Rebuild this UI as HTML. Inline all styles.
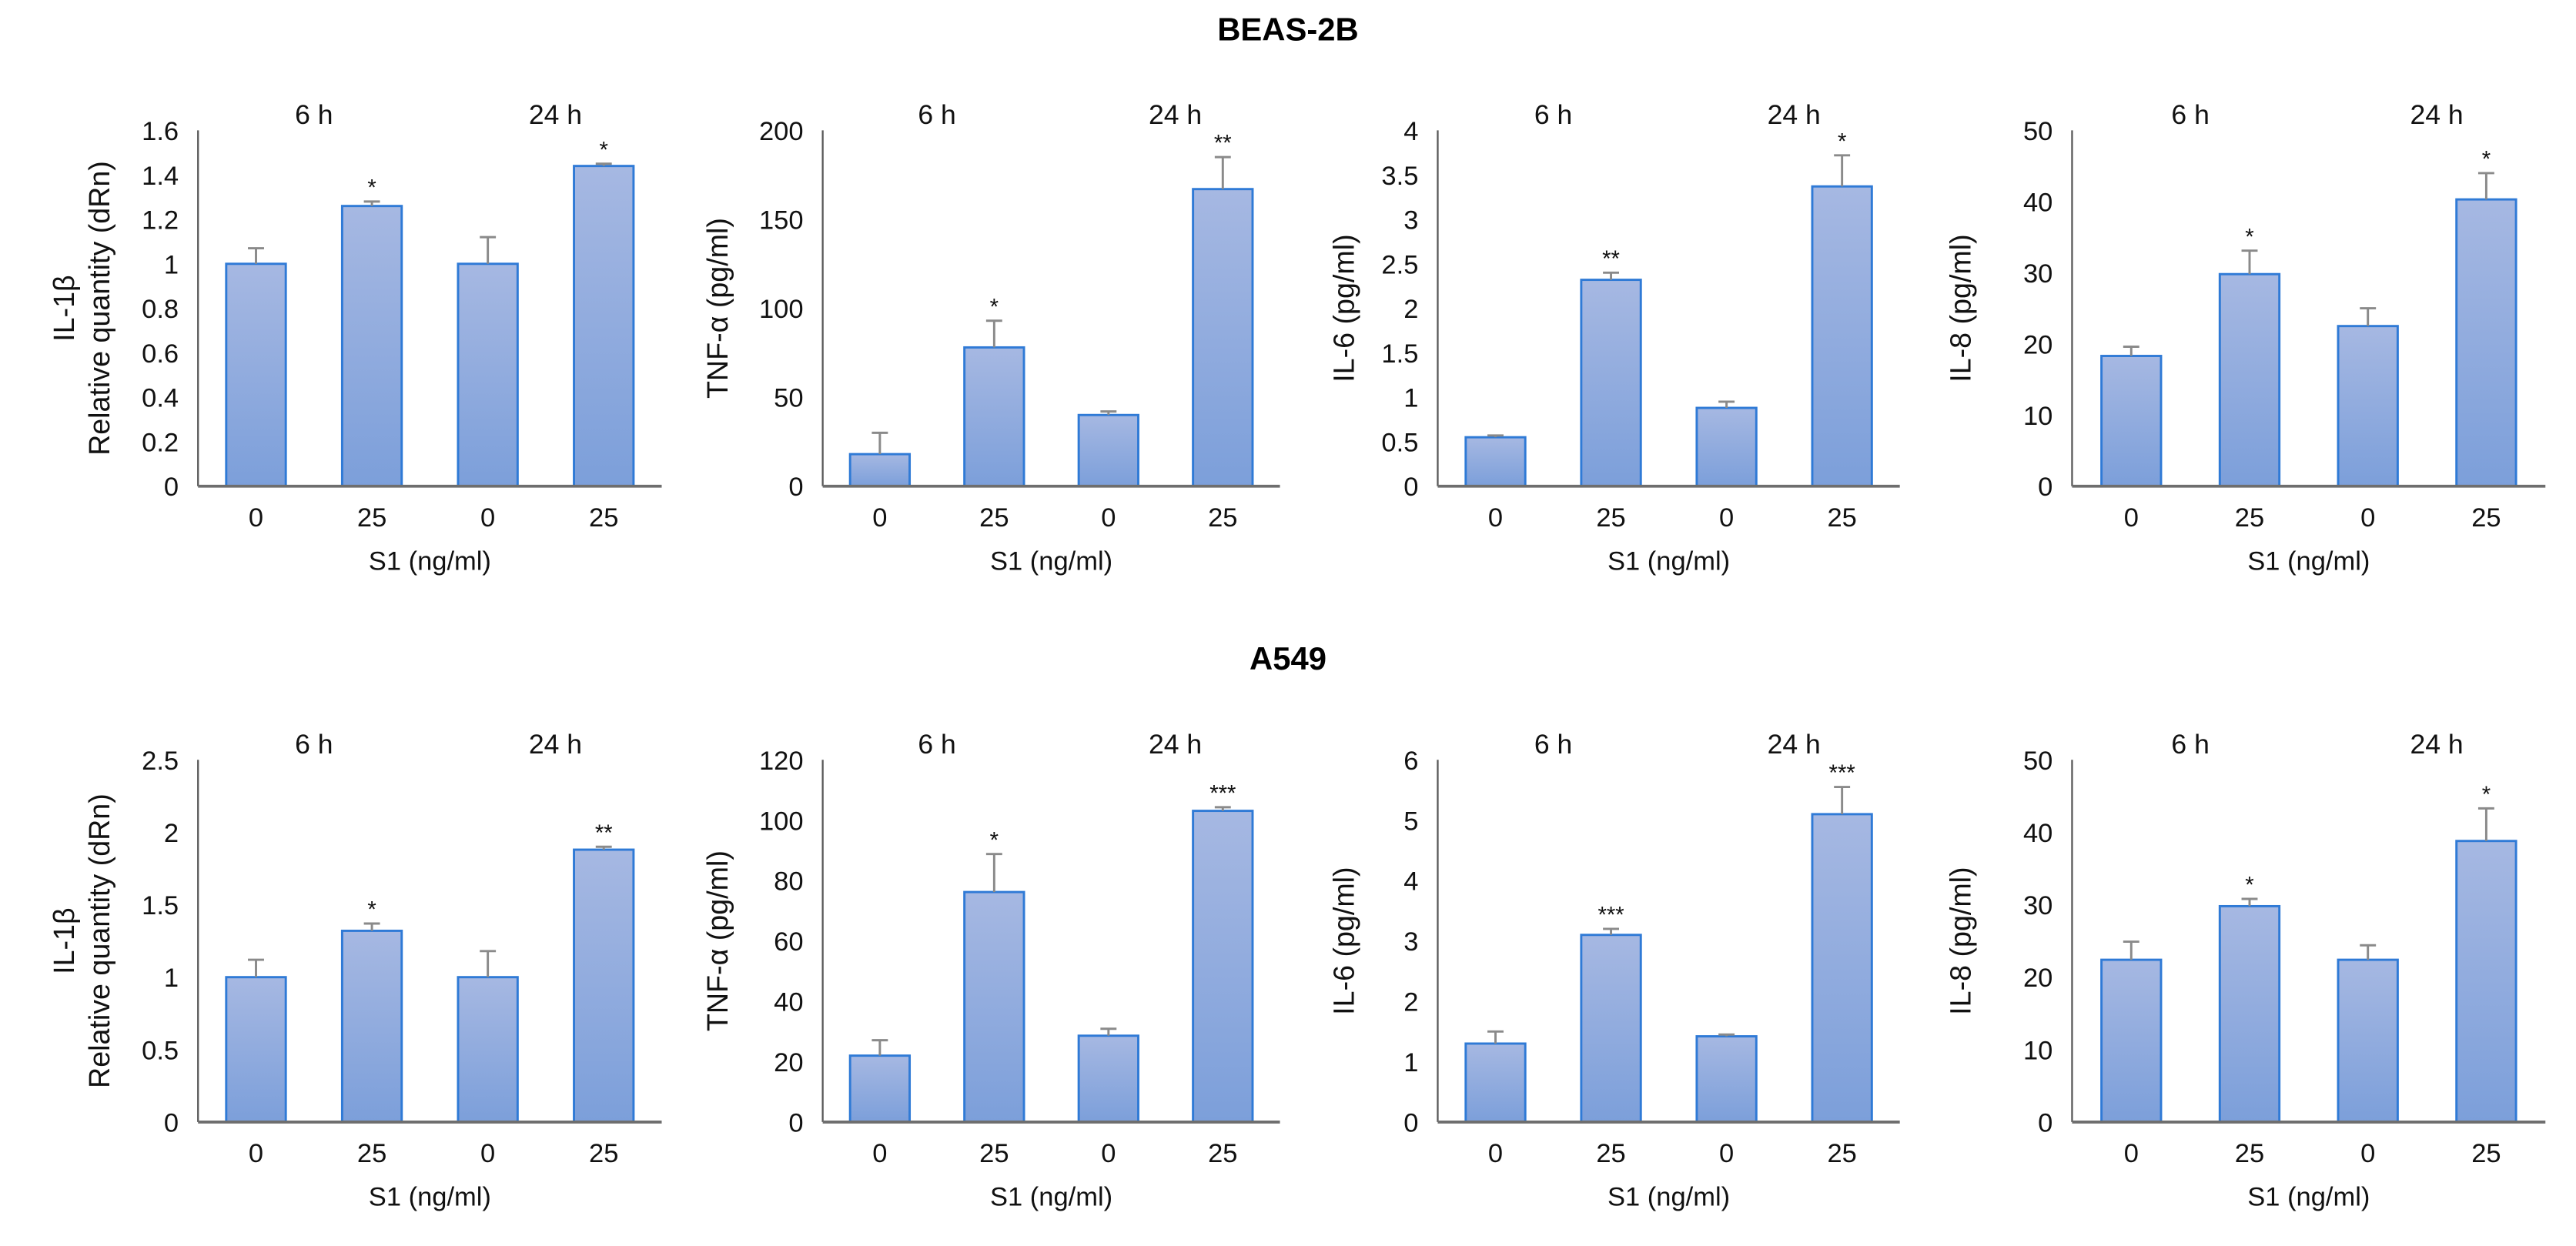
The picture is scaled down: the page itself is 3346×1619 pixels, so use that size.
<!DOCTYPE html>
<html><head><meta charset="utf-8"><style>
html,body{margin:0;padding:0;background:#fff;}
svg{display:block;font-family:"Liberation Sans",Arial,sans-serif;}
</style></head><body>
<svg id="fig" width="3346" height="1619" viewBox="0 0 1600 774" preserveAspectRatio="none" xmlns="http://www.w3.org/2000/svg">
<defs>
<linearGradient id="barGrad" x1="0" y1="0" x2="0" y2="1">
<stop offset="0" stop-color="#a6b8e2"/><stop offset="1" stop-color="#7c9fda"/>
</linearGradient>
</defs>
<text x="800" y="25" text-anchor="middle" font-weight="bold" font-size="20">BEAS-2B</text>
<text x="800" y="416" text-anchor="middle" font-weight="bold" font-size="20">A549</text>
</svg>
<script>
const categories = ['0','25','0','25'];
const timeLabels = ['6 h','24 h'];

const beasIl1bVals = [1.0, 1.26, 1.0, 1.44];
const beasIl1bErr = [0.07, 0.02, 0.12, 0.01];
const beasIl1bStars = ['', '*', '', '*'];
const beasIl1bTicks = [0,0.2,0.4,0.6,0.8,1,1.2,1.4,1.6];

const beasTnfVals = [18, 78, 40, 167];
const beasTnfErr = [12, 15, 2, 18];
const beasTnfStars = ['', '*', '', '**'];
const beasTnfTicks = [0,50,100,150,200];

const beasIl6Vals = [0.55, 2.32, 0.88, 3.37];
const beasIl6Err = [0.02, 0.08, 0.07, 0.35];
const beasIl6Stars = ['', '**', '', '*'];
const beasIl6Ticks = [0,0.5,1,1.5,2,2.5,3,3.5,4];

const beasIl8Vals = [18.3, 29.8, 22.5, 40.3];
const beasIl8Err = [1.3, 3.3, 2.5, 3.7];
const beasIl8Stars = ['', '*', '', '*'];
const beasIl8Ticks = [0,10,20,30,40,50];

const a549Il1bVals = [1.0, 1.32, 1.0, 1.88];
const a549Il1bErr = [0.12, 0.05, 0.18, 0.02];
const a549Il1bStars = ['', '*', '', '**'];
const a549Il1bTicks = [0,0.5,1,1.5,2,2.5];

const a549TnfVals = [22.0, 76.2, 28.6, 103.1];
const a549TnfErr = [5.1, 12.6, 2.3, 1.2];
const a549TnfStars = ['', '*', '', '***'];
const a549TnfTicks = [0,20,40,60,80,100,120];

const a549Il6Vals = [1.3, 3.1, 1.42, 5.1];
const a549Il6Err = [0.2, 0.1, 0.03, 0.45];
const a549Il6Stars = ['', '***', '', '***'];
const a549Il6Ticks = [0,1,2,3,4,5,6];

const a549Il8Vals = [22.4, 29.8, 22.4, 38.8];
const a549Il8Err = [2.5, 1.0, 2.0, 4.5];
const a549Il8Stars = ['', '*', '', '*'];
const a549Il8Ticks = [0,10,20,30,40,50];

const NS = 'http://www.w3.org/2000/svg';
const svg = document.getElementById('fig');
function mk(tag, attrs, parent){
  const e = document.createElementNS(NS, tag);
  for (const k in attrs) e.setAttribute(k, attrs[k]);
  (parent||svg).appendChild(e);
  return e;
}

function panel(id, ax, top, base, width, vals, errs, stars, ticks, titleLines, titleX){
  const g = mk('g', {});
  
  
  const maxV = ticks[ticks.length-1];
  const y = v => base - (v / maxV) * (base - top);
  const band = width / categories.length;
  const x = i => ax + band * (i + 0.5);
  const bw = 37;
  // y axis
  const yl = mk('line', {x1:ax, y1:top, x2:ax, y2:base, stroke:'#595959', 'stroke-width':1.1}, g);
  
  
  ticks.forEach(t => {
    const tl = mk('text', {x:ax-12, y:y(t)+6, 'text-anchor':'end', 'font-size':16.5, fill:'#111'}, g);
    
    
    tl.textContent = String(t);
  });
  // bars
  vals.forEach((v, i) => {
    const r = mk('rect', {x:x(i)-bw/2, y:y(v), width:bw, height:base-y(v), fill:'url(#barGrad)', stroke:'#2f7ad6', 'stroke-width':1.4}, g);
    
    
    const et = y(v + errs[i]);
    const eg = mk('path', {d:'M'+x(i)+' '+y(v)+'V'+et+'M'+(x(i)-5)+' '+et+'H'+(x(i)+5), stroke:'#8a8a8a', 'stroke-width':1.4, fill:'none'}, g);
    
    
    if (stars[i]) {
      const s = mk('text', {x:x(i), y:et-4, 'text-anchor':'middle', 'font-size':14, fill:'#111'}, g);
      
      
      s.textContent = stars[i];
    }
    const cl = mk('text', {x:x(i), y:base+25, 'text-anchor':'middle', 'font-size':16.5, fill:'#111'}, g);
    
    
    cl.textContent = categories[i];
  });
  // x axis
  const xl = mk('line', {x1:ax, y1:base, x2:ax+width, y2:base, stroke:'#6e6e6e', 'stroke-width':1.8}, g);
  
  
  // time labels
  timeLabels.forEach((t, k) => {
    const tx = ax + band * (2*k + 1) + (k ? 6 : 0);
    const tt = mk('text', {x:tx, y:top-4, 'text-anchor':'middle', 'font-size':17, fill:'#111'}, g);
    
    
    tt.textContent = t;
  });
  // x title
  const xt = mk('text', {x:ax + width/2, y:base+52, 'text-anchor':'middle', 'font-size':16.5, fill:'#111'}, g);
  
  
  xt.textContent = 'S1 (ng/ml)';
  // y title
  const cy = (top + base) / 2;
  titleLines.forEach((ln, k) => {
    const tx = titleX + k * 22;
    const yt = mk('text', {x:tx, y:cy, 'text-anchor':'middle', 'font-size':18, fill:'#111', transform:'rotate(-90 '+tx+' '+cy+')', dy:6}, g);
    
    
    yt.textContent = ln;
  });
}

const r1t = 81, r1b = 302, r2t = 472, r2b = 697;
panel('beas-il1b', 123, r1t, r1b, 288, beasIl1bVals, beasIl1bErr, beasIl1bStars, beasIl1bTicks, ['IL-1β','Relative quantity (dRn)'], 40);
panel('beas-tnf', 511, r1t, r1b, 284, beasTnfVals, beasTnfErr, beasTnfStars, beasTnfTicks, ['TNF-α (pg/ml)'], 446);
panel('beas-il6', 893, r1t, r1b, 287, beasIl6Vals, beasIl6Err, beasIl6Stars, beasIl6Ticks, ['IL-6 (pg/ml)'], 835);
panel('beas-il8', 1287, r1t, r1b, 294, beasIl8Vals, beasIl8Err, beasIl8Stars, beasIl8Ticks, ['IL-8 (pg/ml)'], 1218);
panel('a549-il1b', 123, r2t, r2b, 288, a549Il1bVals, a549Il1bErr, a549Il1bStars, a549Il1bTicks, ['IL-1β','Relative quantity (dRn)'], 40);
panel('a549-tnf', 511, r2t, r2b, 284, a549TnfVals, a549TnfErr, a549TnfStars, a549TnfTicks, ['TNF-α (pg/ml)'], 446);
panel('a549-il6', 893, r2t, r2b, 287, a549Il6Vals, a549Il6Err, a549Il6Stars, a549Il6Ticks, ['IL-6 (pg/ml)'], 835);
panel('a549-il8', 1287, r2t, r2b, 294, a549Il8Vals, a549Il8Err, a549Il8Stars, a549Il8Ticks, ['IL-8 (pg/ml)'], 1218);
</script>
</body></html>
